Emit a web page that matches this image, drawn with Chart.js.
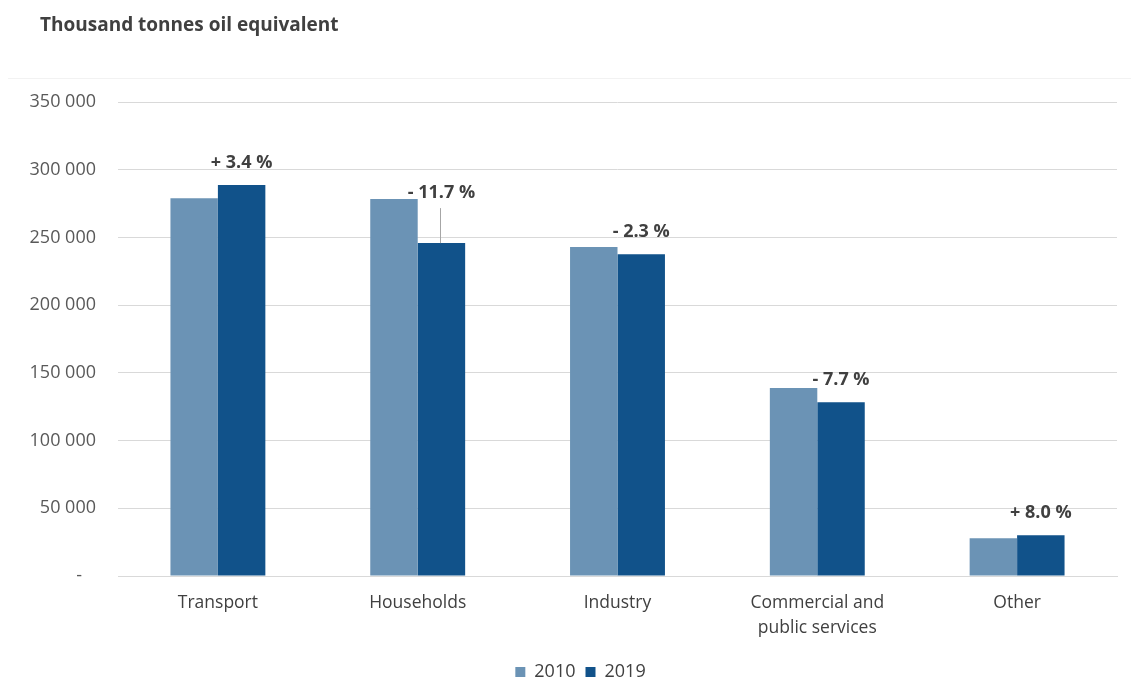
<!DOCTYPE html>
<html>
<head>
<meta charset="utf-8">
<script src="https://cdn.jsdelivr.net/npm/chart.js@4.4.1/dist/chart.umd.min.js"></script>
<style>
  html, body { margin: 0; padding: 0; background: #ffffff; }
  #wrap { position: relative; width: 1131px; height: 679px; overflow: hidden; }
  #title { position: absolute; left: 40px; top: 11px; font: bold 19px "Open Sans", Lato, sans-serif; color: #404040; }
  #sep { position: absolute; left: 8px; right: 0; top: 78px; border-top: 1px solid #f2f2f2; }
  canvas { position: absolute; left: 0; top: 0; }
</style>
</head>
<body>
<div id="wrap">
  <canvas id="c" width="1131" height="679"></canvas>
  <div id="title">Thousand tonnes oil equivalent</div>
  <div id="sep"></div>
</div>
<script>
const categories = [["Transport"], ["Households"], ["Industry"], ["Commercial and", "public services"], ["Other"]];
const values2010 = [279000, 278400, 243000, 138800, 27800];
const values2019 = [288700, 245800, 237500, 128300, 30000];
const changeLabels = ["+ 3.4 %", "- 11.7 %", "- 2.3 %", "- 7.7 %", "+ 8.0 %"];
const yTicks = [0, 50000, 100000, 150000, 200000, 250000, 300000, 350000];

const FONT = '"Open Sans", Lato, sans-serif';

const changePlugin = {
  id: 'changeLabels',
  afterDatasetsDraw(chart, args, opts) {
    const ctx = chart.ctx;
    const meta19 = chart.getDatasetMeta(1);
    ctx.save();
    ctx.font = 'bold 18px ' + FONT;
    ctx.fillStyle = '#404040';
    ctx.textAlign = 'center';
    ctx.textBaseline = 'middle';
    meta19.data.forEach((bar, i) => {
      const lift = opts.lift[i] || 0;
      const y = bar.y - 22 - lift;
      ctx.fillText(changeLabels[i], bar.x, y);
      if (lift > 0) {
        ctx.strokeStyle = '#a6a6a6';
        ctx.lineWidth = 1;
        ctx.beginPath();
        ctx.moveTo(Math.round(bar.x) - 0.5, y + 15);
        ctx.lineTo(Math.round(bar.x) - 0.5, bar.y);
        ctx.stroke();
      }
    });
    ctx.restore();
  }
};

// center the legend under the middle of the window, as in the reference
const legendShift = {
  id: 'legendShift',
  afterLayout(chart) {
    const lg = chart.legend;
    if (lg) { const dx = 22; lg.left += dx; lg.right += dx; }
  }
};

new Chart(document.getElementById('c'), {
  type: 'bar',
  data: {
    labels: categories,
    datasets: [
      { label: '2010', data: values2010, backgroundColor: '#6b93b5', borderWidth: 0 },
      { label: '2019', data: values2019, backgroundColor: '#11528a', borderWidth: 0 }
    ]
  },
  options: {
    responsive: false,
    animation: false,
    devicePixelRatio: 1,
    layout: { padding: { top: 102, right: 14, left: 0, bottom: -12 } },
    datasets: { bar: { barPercentage: 1.0, categoryPercentage: 0.475 } },
    scales: {
      x: {
        grid: { display: false, drawTicks: false },
        border: { display: true, color: '#d9d9d9', width: 1 },
        ticks: { color: '#404040', font: { size: 17.5, family: FONT, lineHeight: 1.45 }, padding: 14, maxRotation: 0, autoSkip: false },
        afterFit(scale) { scale.height = 77; }
      },
      y: {
        min: 0, max: 350000,
        afterBuildTicks(scale) { scale.ticks = yTicks.map(v => ({ value: v })); },
        grid: { color: '#d9d9d9', lineWidth: 1, drawTicks: false },
        border: { display: false },
        ticks: {
          color: '#595959', font: { size: 18, family: FONT }, padding: 22,
          callback: v => v === 0 ? '-   ' : v.toLocaleString('en-US').replace(/,/g, ' ')
        },
        afterFit(scale) { scale.width = 118; }
      }
    },
    plugins: {
      legend: {
        position: 'bottom',
        labels: { color: '#404040', font: { size: 18, family: FONT }, boxWidth: 10, boxHeight: 10, padding: 10 }
      },
      tooltip: { enabled: false },
      changeLabels: { lift: [0, 28, 0, 0, 0] }
    }
  },
  plugins: [changePlugin, legendShift]
});
</script>
</body>
</html>
